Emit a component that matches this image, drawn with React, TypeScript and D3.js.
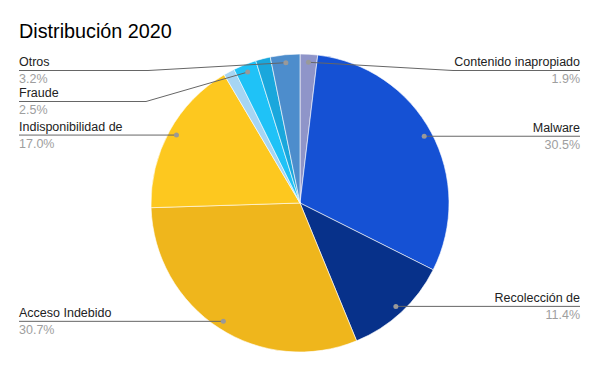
import React from 'react'
import * as d3 from 'd3'

// slices in drawing order, clockwise from 12 o'clock
const categories = [
  'Contenido inapropiado',
  'Malware',
  'Recolección de',
  'Acceso Indebido',
  'Indisponibilidad de',
  'Sin etiqueta A',
  'Fraude',
  'Sin etiqueta B',
  'Otros',
]
const values = [1.9, 30.5, 11.4, 30.7, 17.0, 1.2, 2.5, 1.6, 3.2]
const showLabel = [true, true, true, true, true, false, true, false, true]
const colors = [
  '#8f95c9', '#1551d4', '#07318a', '#efb61c', '#fdc81f',
  '#a6d5f3', '#1fc2f7', '#1aa7dc', '#4d8dcc',
]

const W = 600
const H = 371
const cx = 300
const cy = 203
const R = 149
const dotR = 141
const leftX = 19
const rightX = 580

// where a label line leaves the horizontal run (only for the crowded top labels)
const labelLineY: Record<string, number> = {
  'Contenido inapropiado': 70.5,
  'Otros': 70.5,
  'Fraude': 101.5,
}
const bendX: Record<string, number> = {
  'Contenido inapropiado': 453,
  'Otros': 148,
  'Fraude': 146,
}

export default function App() {
  const data = categories.map((c, i) => ({ name: c, value: values[i], color: colors[i], show: showLabel[i] }))
  const pie = d3.pie<any>().sort(null).value(d => d.value)
  const arcs = pie(data)
  const arc = d3.arc<any>().innerRadius(0).outerRadius(R)
  const fmt = d3.format('.1f')

  return (
    <svg width={W} height={H} style={{ display: 'block', position: 'absolute', left: 0, top: 0 }}
      fontFamily="'Liberation Sans', Arial, sans-serif">
      <rect width={W} height={H} fill="#fff" />
      <text x={19} y={38} fontSize={19.8} fill="#000">Distribución 2020</text>
      <g transform={`translate(${cx},${cy})`}>
        {arcs.map((a, i) => (
          <path key={i} d={arc(a) || ''} fill={a.data.color} stroke="#fff" strokeWidth={0.6} />
        ))}
      </g>
      {arcs.filter(a => a.data.show).map((a, i) => {
        const mid = (a.startAngle + a.endAngle) / 2
        const dx = cx + Math.sin(mid) * dotR
        const dy = cy - Math.cos(mid) * dotR
        const right = Math.sin(mid) > 0
        const ly = labelLineY[a.data.name] ?? dy
        const bx = bendX[a.data.name]
        const endX = right ? rightX : leftX
        const pts = bx !== undefined
          ? `${dx},${dy} ${bx},${ly} ${endX},${ly}`
          : `${dx},${ly} ${endX},${ly}`
        const anchor = right ? 'end' : 'start'
        return (
          <g key={i}>
            <polyline points={pts} fill="none" stroke="#666" strokeWidth={1} />
            <circle cx={dx} cy={dy} r={2.5} fill="#999" />
            <text x={endX} y={ly - 4.5} fontSize={12.5} fill="#222" textAnchor={anchor}>{a.data.name}</text>
            <text x={endX} y={ly + 12.5} fontSize={12.5} fill="#9e9e9e" textAnchor={anchor}>{fmt(a.data.value)}%</text>
          </g>
        )
      })}
    </svg>
  )
}
